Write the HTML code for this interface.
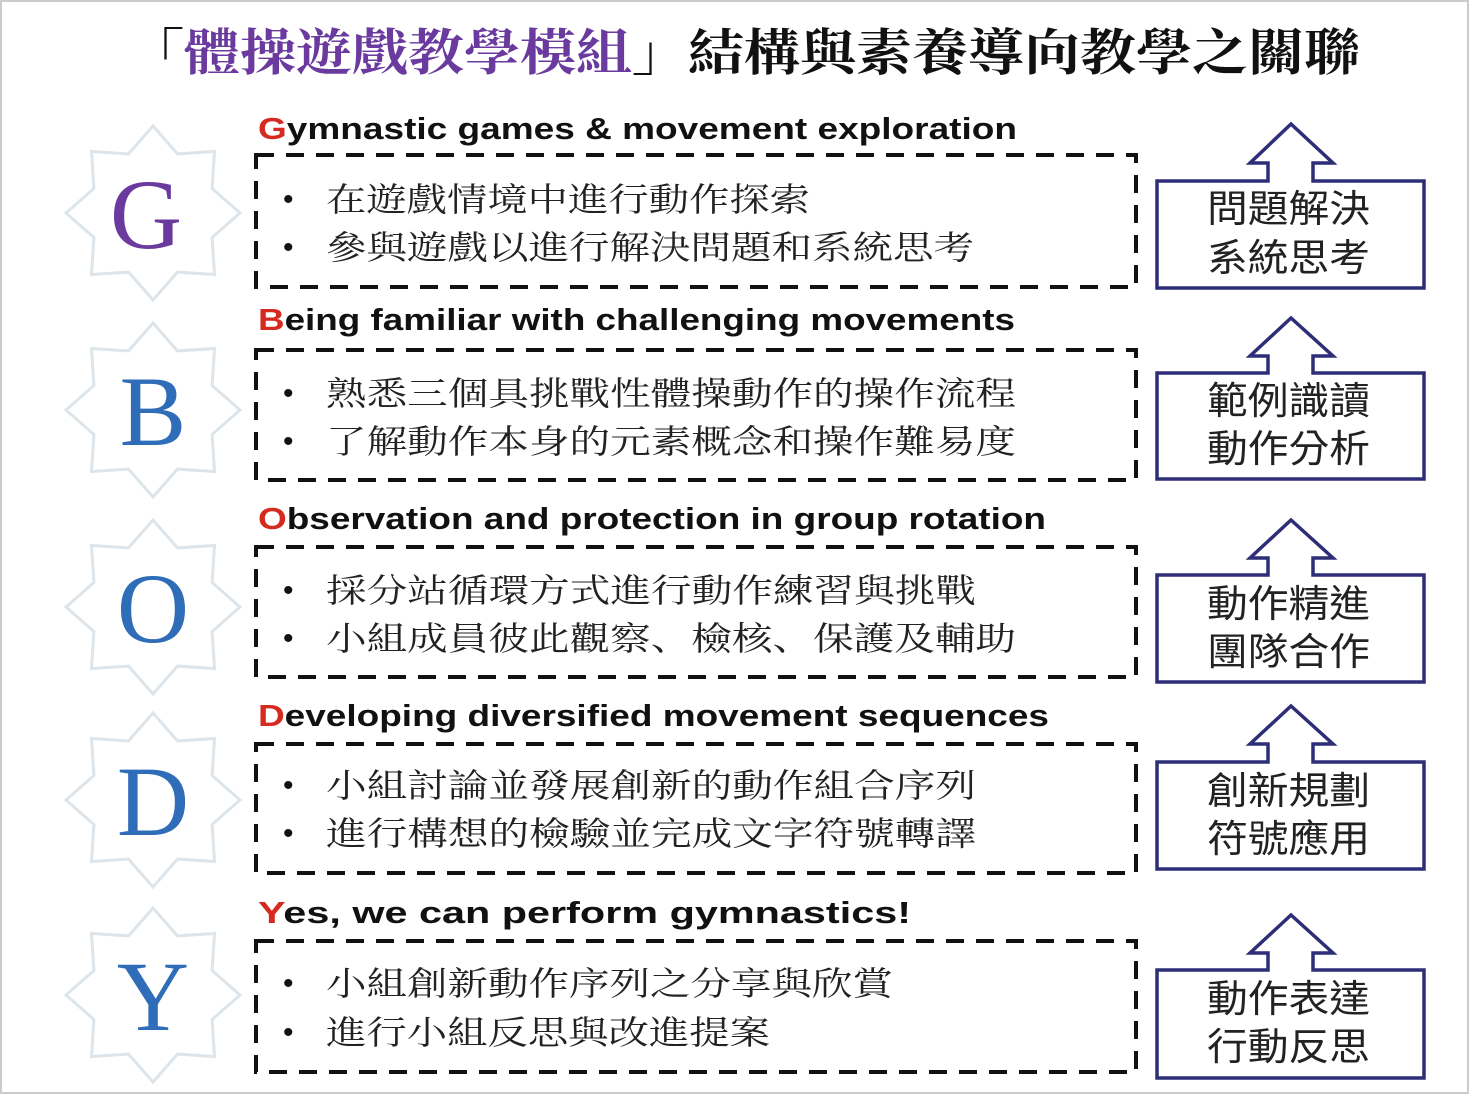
<!DOCTYPE html>
<html><head><meta charset="utf-8"><style>
html,body{margin:0;padding:0;background:#fff;}
svg{display:block;}
.h{font-family:"Liberation Sans",sans-serif;font-weight:bold;font-size:31px;fill:#111;}
.r{fill:#d42a20;}
.b{font-family:"Noto Serif CJK SC","Noto Serif CJK TC",serif;font-size:33px;fill:#222;}
.d{font-family:"Liberation Sans",sans-serif;font-size:30px;fill:#111;}
.rt{font-family:"Liberation Sans","Noto Sans CJK TC",sans-serif;font-size:38px;fill:#222;}
.L{font-family:"Liberation Serif",serif;font-size:100px;}
.box{fill:none;stroke:#111;stroke-width:4;stroke-dasharray:18 12;}
.ar{fill:#fff;stroke:#2e2e78;stroke-width:3.5;}
.st{fill:#fff;stroke:#dde5ea;stroke-width:3;}
</style></head><body>
<svg width="1473" height="1095" viewBox="0 0 1473 1095" xmlns="http://www.w3.org/2000/svg">
<rect x="1" y="1" width="1467" height="1092" fill="#fff" stroke="#ccc" stroke-width="2"/>
<defs><polygon id="star" points="0,-87 24.5,-59.1 61.5,-61.5 59.1,-24.5 87,0 59.1,24.5 61.5,61.5 24.5,59.1 0,87 -24.5,59.1 -61.5,61.5 -59.1,24.5 -87,0 -59.1,-24.5 -61.5,-61.5 -24.5,-59.1"/></defs>
<text x="128" y="70" textLength="1232" lengthAdjust="spacingAndGlyphs" style="font-family:'Noto Serif CJK SC','Noto Serif CJK TC',serif;font-weight:bold;font-size:50px;fill:#111">「<tspan fill="#6a3a9e">體操遊戲教學模組</tspan>」結構與素養導向教學之關聯</text>

<!-- stars -->
<use href="#star" x="153" y="213" class="st"/>
<use href="#star" x="153" y="410" class="st"/>
<use href="#star" x="153" y="607" class="st"/>
<use href="#star" x="153" y="800" class="st"/>
<use href="#star" x="153" y="995" class="st"/>
<text class="L" x="146" y="248" text-anchor="middle" fill="#6a3a9e">G</text>
<text class="L" x="153" y="445" text-anchor="middle" fill="#2f6db8">B</text>
<text class="L" x="153" y="642" text-anchor="middle" fill="#2f6db8">O</text>
<text class="L" x="153" y="835" text-anchor="middle" fill="#2f6db8">D</text>
<text class="L" x="153" y="1030" text-anchor="middle" fill="#2f6db8">Y</text>

<!-- headings -->
<text class="h" x="258" y="139" textLength="759" lengthAdjust="spacingAndGlyphs"><tspan class="r">G</tspan>ymnastic games &amp; movement exploration</text>
<text class="h" x="258" y="330" textLength="757" lengthAdjust="spacingAndGlyphs"><tspan class="r">B</tspan>eing familiar with challenging movements</text>
<text class="h" x="258" y="529" textLength="788" lengthAdjust="spacingAndGlyphs"><tspan class="r">O</tspan>bservation and protection in group rotation</text>
<text class="h" x="258" y="726" textLength="791" lengthAdjust="spacingAndGlyphs"><tspan class="r">D</tspan>eveloping diversified movement sequences</text>
<text class="h" x="258" y="923" textLength="653" lengthAdjust="spacingAndGlyphs"><tspan class="r">Y</tspan>es, we can perform gymnastics!</text>

<!-- dashed boxes -->
<rect class="box" x="256" y="155" width="880" height="132"/>
<rect class="box" x="256" y="350" width="880" height="130"/>
<rect class="box" x="256" y="547" width="880" height="130"/>
<rect class="box" x="256" y="744" width="880" height="129"/>
<rect class="box" x="256" y="941" width="880" height="131"/>

<!-- bullets -->
<g class="d">
<text x="283" y="209">•</text><text x="283" y="257">•</text>
<text x="283" y="403">•</text><text x="283" y="451">•</text>
<text x="283" y="600">•</text><text x="283" y="648">•</text>
<text x="283" y="795">•</text><text x="283" y="843">•</text>
<text x="283" y="993">•</text><text x="283" y="1042">•</text>
</g>
<g class="b">
<text x="326" y="211" textLength="484" lengthAdjust="spacingAndGlyphs">在遊戲情境中進行動作探索</text>
<text x="326" y="259" textLength="648" lengthAdjust="spacingAndGlyphs">參與遊戲以進行解決問題和系統思考</text>
<text x="326" y="405" textLength="690" lengthAdjust="spacingAndGlyphs">熟悉三個具挑戰性體操動作的操作流程</text>
<text x="326" y="453" textLength="690" lengthAdjust="spacingAndGlyphs">了解動作本身的元素概念和操作難易度</text>
<text x="326" y="602" textLength="650" lengthAdjust="spacingAndGlyphs">採分站循環方式進行動作練習與挑戰</text>
<text x="326" y="650" textLength="690" lengthAdjust="spacingAndGlyphs">小組成員彼此觀察、檢核、保護及輔助</text>
<text x="326" y="797" textLength="650" lengthAdjust="spacingAndGlyphs">小組討論並發展創新的動作組合序列</text>
<text x="326" y="845" textLength="650" lengthAdjust="spacingAndGlyphs">進行構想的檢驗並完成文字符號轉譯</text>
<text x="326" y="995" textLength="567" lengthAdjust="spacingAndGlyphs">小組創新動作序列之分享與欣賞</text>
<text x="326" y="1044" textLength="444" lengthAdjust="spacingAndGlyphs">進行小組反思與改進提案</text>
</g>

<!-- arrow boxes -->
<path class="ar" d="M1157,181 H1268 V163 H1250 L1291,124 L1333,163 H1313 V181 H1424 V288 H1157 Z"/>
<path class="ar" d="M1157,373 H1268 V356 H1250 L1291,318 L1333,356 H1313 V373 H1424 V479 H1157 Z"/>
<path class="ar" d="M1157,575 H1268 V558 H1250 L1291,520 L1333,558 H1313 V575 H1424 V682 H1157 Z"/>
<path class="ar" d="M1157,762 H1268 V744 H1250 L1291,706 L1333,744 H1313 V762 H1424 V869 H1157 Z"/>
<path class="ar" d="M1157,970 H1268 V953 H1250 L1291,915 L1333,953 H1313 V970 H1424 V1078 H1157 Z"/>
<g class="rt">
<text x="1207" y="222" textLength="163" lengthAdjust="spacingAndGlyphs">問題解決</text>
<text x="1207" y="271" textLength="163" lengthAdjust="spacingAndGlyphs">系統思考</text>
<text x="1207" y="414" textLength="163" lengthAdjust="spacingAndGlyphs">範例識讀</text>
<text x="1207" y="462" textLength="163" lengthAdjust="spacingAndGlyphs">動作分析</text>
<text x="1207" y="617" textLength="163" lengthAdjust="spacingAndGlyphs">動作精進</text>
<text x="1207" y="665" textLength="163" lengthAdjust="spacingAndGlyphs">團隊合作</text>
<text x="1207" y="804" textLength="163" lengthAdjust="spacingAndGlyphs">創新規劃</text>
<text x="1207" y="852" textLength="163" lengthAdjust="spacingAndGlyphs">符號應用</text>
<text x="1207" y="1012" textLength="163" lengthAdjust="spacingAndGlyphs">動作表達</text>
<text x="1207" y="1060" textLength="163" lengthAdjust="spacingAndGlyphs">行動反思</text>
</g>
</svg>
</body></html>
